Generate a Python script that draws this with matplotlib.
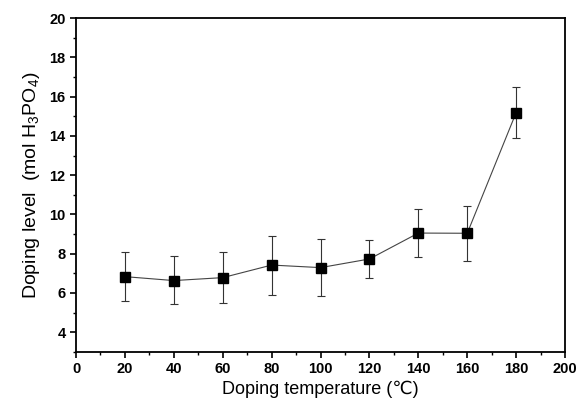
import numpy as np
import matplotlib
matplotlib.use("Agg")
import matplotlib.pyplot as plt
from matplotlib.ticker import MultipleLocator

# data
temperature = [20, 40, 60, 80, 100, 120, 140, 160, 180]
doping = [6.83, 6.63, 6.78, 7.42, 7.29, 7.73, 9.05, 9.04, 15.19]
err_low = [5.61, 5.42, 5.47, 5.91, 5.85, 6.74, 7.82, 7.65, 13.89]
err_high = [8.06, 7.86, 8.11, 8.91, 8.73, 8.70, 10.30, 10.43, 16.48]

plt.rcParams['font.family'] = ['Liberation Sans', 'DejaVu Sans']
plt.rcParams['mathtext.fontset'] = 'custom'
plt.rcParams['mathtext.rm'] = 'Liberation Sans'
plt.rcParams['mathtext.it'] = 'Liberation Sans'

fig = plt.figure(figsize=(5.76, 4.03), dpi=100)
ax = fig.add_axes([0.132, 0.127, 0.849, 0.828])

x = np.array(temperature)
y = np.array(doping)
yerr = [y - np.array(err_low), np.array(err_high) - y]

ax.errorbar(x, y, yerr=yerr, fmt='none', ecolor='#333333', elinewidth=0.8,
            capsize=3, capthick=0.8)
ax.plot(x, y, color='#444444', lw=0.8, marker='s', ms=6.5,
        mfc='black', mec='black')

ax.set_xlim(0, 200)
ax.set_ylim(3, 20)
ax.xaxis.set_major_locator(MultipleLocator(20))
ax.xaxis.set_minor_locator(MultipleLocator(10))
ax.yaxis.set_major_locator(MultipleLocator(2))
ax.yaxis.set_minor_locator(MultipleLocator(1))
ax.set_yticks([4, 6, 8, 10, 12, 14, 16, 18, 20])

ax.tick_params(which='major', direction='out', length=4, width=1.2)
ax.tick_params(which='minor', direction='out', length=2.5, width=1.0)
for lbl in ax.get_xticklabels() + ax.get_yticklabels():
    lbl.set_fontweight('bold')
    lbl.set_fontsize(10.5)
for s in ax.spines.values():
    s.set_linewidth(1.3)

ax.set_xlabel('Doping temperature (\u2103)', fontsize=13, labelpad=3)
ax.set_ylabel('Doping level  (mol H$_3$PO$_4$)', fontsize=14, labelpad=5)

fig.savefig('out.png', dpi=100)
